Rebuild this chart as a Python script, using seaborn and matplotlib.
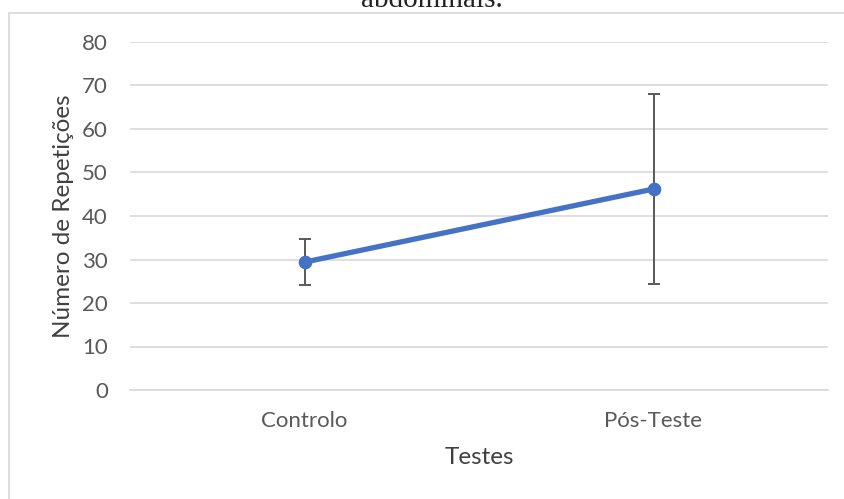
import matplotlib
matplotlib.use("Agg")
import matplotlib.pyplot as plt
import seaborn as sns
import pandas as pd
from matplotlib.patches import Rectangle

# dados
testes = ["Controlo", "Pós-Teste"]
medias = [29.4, 46.2]
desvios = [5.3, 21.8]

df = pd.DataFrame({"Testes": testes, "Repeticoes": medias})

sns.set_style("white")
plt.rcParams["font.family"] = ["Lato", "DejaVu Sans"]

fig = plt.figure(figsize=(8.45, 4.99), dpi=100)
ax = fig.add_axes([130 / 845, 1 - 390 / 499, 698 / 845, 348 / 499])

# moldura do gráfico (cortada à direita e em baixo)
fig.patches.append(Rectangle((9 / 845, -0.05), 1.2, 1 - 12.5 / 499 + 0.05,
                             transform=fig.transFigure, fill=False,
                             edgecolor="#D9D9D9", linewidth=1.2, zorder=0))
# título cortado no topo, como no original
fig.text(432 / 845, 1 - 7 / 499, "abdominais.", ha="center", va="baseline",
         fontsize=21, family="Liberation Serif", color="#222222")

sns.pointplot(data=df, x="Testes", y="Repeticoes", errorbar=None,
              color="#4472C4", markers="o", markersize=7, linewidth=3.8, ax=ax)
ax.errorbar(range(len(testes)), medias, yerr=desvios, fmt="none",
            ecolor="#595959", elinewidth=1.4, capsize=4.3, capthick=1.4, zorder=1)

ax.set_xlim(-0.5, 1.5)
ax.set_ylim(0, 80)
ax.set_yticks(range(0, 81, 10))
ax.yaxis.grid(True, color="#D9D9D9", linewidth=1.2)
ax.set_axisbelow(True)
for s in ["left", "right", "top"]:
    ax.spines[s].set_visible(False)
ax.spines["bottom"].set_color("#D9D9D9")
ax.spines["bottom"].set_linewidth(1.2)

ax.set_xticks([-0.5, 0.5, 1.5], minor=True)
ax.tick_params(axis="x", which="minor", length=4, color="#D9D9D9", width=1.2)
ax.tick_params(axis="x", which="major", length=0, pad=15, labelsize=16, labelcolor="#595959")
ax.tick_params(axis="y", length=0, pad=16, labelsize=16, labelcolor="#595959")

ax.set_xlabel("Testes", fontsize=17.5, color="#404040", labelpad=12)
ax.set_ylabel("Número de Repetições", fontsize=17.5, color="#404040", labelpad=6)

fig.savefig("out.png", dpi=100)
